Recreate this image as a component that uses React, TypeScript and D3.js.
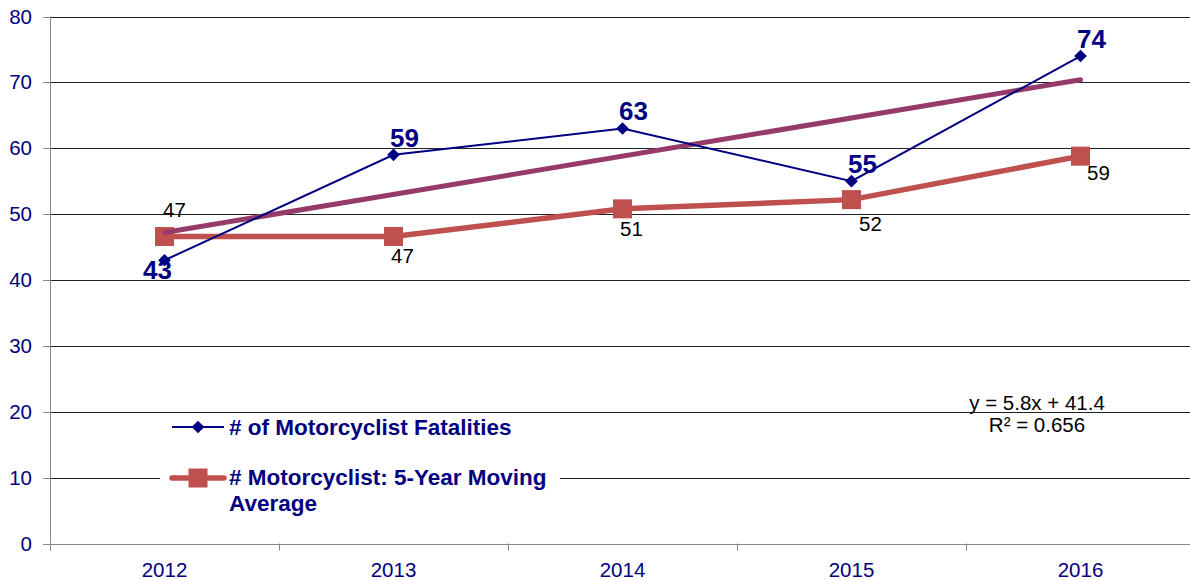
import React, { useEffect, useRef } from "react";
import * as d3 from "d3";

const years = ["2012", "2013", "2014", "2015", "2016"];
const fatalities = [43, 59, 63, 55, 74];
const movingAvg = [46.6, 46.6, 50.8, 52.2, 58.8];
const movingAvgLabels = ["47", "47", "51", "52", "59"];
const yTicks = [0, 10, 20, 30, 40, 50, 60, 70, 80];
const trendSlope = 5.8;
const trendIntercept = 41.4;
const trendText = ["y = 5.8x + 41.4", "R² = 0.656"];
const legendLabels = ["# of Motorcyclist Fatalities", "# Motorcyclist: 5-Year Moving", "Average"];

const W = 1190;
const H = 580;
const FONT = "'Liberation Sans', Arial, sans-serif";
const NAVY = "#000080";
const RED = "#C0504D";
const PURPLE = "#953B6B";

export default function App() {
  const ref = useRef<SVGSVGElement | null>(null);

  useEffect(() => {
    const svg = d3.select(ref.current);
    svg.selectAll("*").remove();

    const left = 50;
    const right = 1195;
    const top = 16.5;
    const bottom = 543.5;

    const x = d3.scaleBand<string>().domain(years).range([left, right]);
    const cx = (d: string) => (x(d) as number) + x.bandwidth() / 2;
    const y = d3.scaleLinear().domain([0, 80]).range([bottom, top]);

    // gridlines
    svg
      .append("g")
      .selectAll("line")
      .data(yTicks.filter((t) => t > 0))
      .join("line")
      .attr("x1", left)
      .attr("x2", W)
      .attr("y1", (d) => Math.round(y(d)) + 0.5)
      .attr("y2", (d) => Math.round(y(d)) + 0.5)
      .attr("stroke", "#222")
      .attr("stroke-width", 1);

    // legend background (covers gridlines)
    svg
      .append("rect")
      .attr("x", 160)
      .attr("y", 416)
      .attr("width", 400)
      .attr("height", 100)
      .attr("fill", "white");

    // y axis
    const ya = svg.append("g");
    ya.append("line")
      .attr("x1", left + 0.5)
      .attr("x2", left + 0.5)
      .attr("y1", top)
      .attr("y2", bottom)
      .attr("stroke", "#888");
    ya.selectAll("line.tick")
      .data(yTicks)
      .join("line")
      .attr("class", "tick")
      .attr("x1", left - 7)
      .attr("x2", left)
      .attr("y1", (d) => Math.round(y(d)) + 0.5)
      .attr("y2", (d) => Math.round(y(d)) + 0.5)
      .attr("stroke", "#888");
    ya.selectAll("text")
      .data(yTicks)
      .join("text")
      .attr("x", 32)
      .attr("y", (d) => y(d) + 7)
      .attr("text-anchor", "end")
      .attr("font-family", FONT)
      .attr("font-size", 20.5)
      .attr("fill", NAVY)
      .text((d) => String(d));

    // x axis
    const xa = svg.append("g");
    xa.append("line")
      .attr("x1", left)
      .attr("x2", W)
      .attr("y1", Math.round(bottom) + 0.5)
      .attr("y2", Math.round(bottom) + 0.5)
      .attr("stroke", "#888");
    const bounds = years.map((d) => x(d) as number).concat([right]);
    xa.selectAll("line.tick")
      .data(bounds)
      .join("line")
      .attr("class", "tick")
      .attr("x1", (d) => Math.round(d) + 0.5)
      .attr("x2", (d) => Math.round(d) + 0.5)
      .attr("y1", bottom)
      .attr("y2", bottom + 7)
      .attr("stroke", "#888");
    xa.selectAll("text")
      .data(years)
      .join("text")
      .attr("x", (d) => cx(d))
      .attr("y", 577)
      .attr("text-anchor", "middle")
      .attr("font-family", FONT)
      .attr("font-size", 20.5)
      .attr("fill", NAVY)
      .text((d) => d);

    // moving average line
    const line = d3.line<number>().x((_, i) => cx(years[i])).y((d) => y(d));
    svg
      .append("path")
      .attr("d", line(movingAvg) as string)
      .attr("fill", "none")
      .attr("stroke", RED)
      .attr("stroke-width", 5.5);
    svg
      .append("g")
      .selectAll("rect")
      .data(movingAvg)
      .join("rect")
      .attr("x", (_, i) => cx(years[i]) - 9.5)
      .attr("y", (d) => y(d) - 9.5)
      .attr("width", 19)
      .attr("height", 19)
      .attr("fill", RED);

    // trend line
    const tx0 = 1;
    const tx1 = years.length;
    svg
      .append("line")
      .attr("x1", cx(years[0]))
      .attr("x2", cx(years[years.length - 1]))
      .attr("y1", y(trendSlope * tx0 + trendIntercept))
      .attr("y2", y(trendSlope * tx1 + trendIntercept))
      .attr("stroke", PURPLE)
      .attr("stroke-width", 5)
      .attr("stroke-linecap", "round");

    // fatalities line
    svg
      .append("path")
      .attr("d", line(fatalities) as string)
      .attr("fill", "none")
      .attr("stroke", NAVY)
      .attr("stroke-width", 2);
    svg
      .append("g")
      .selectAll("path")
      .data(fatalities)
      .join("path")
      .attr("d", d3.symbol().type(d3.symbolSquare).size(80) as any)
      .attr("transform", (d, i) => `translate(${cx(years[i])},${y(d)}) rotate(45)`)
      .attr("fill", NAVY);

    // fatality labels
    svg
      .append("g")
      .selectAll("text")
      .data(fatalities)
      .join("text")
      .attr("x", (_, i) => cx(years[i]) + (i === 0 ? -7 : 11))
      .attr("y", (d, i) => y(d) + (i === 0 ? 19 : -8))
      .attr("text-anchor", "middle")
      .attr("font-family", FONT)
      .attr("font-size", 26)
      .attr("font-weight", "bold")
      .attr("fill", NAVY)
      .text((d) => String(d));

    // moving average labels
    const maDx = [10, 9, 9, 19, 18];
    const maDy = [-20, 26, 27, 31, 24];
    svg
      .append("g")
      .selectAll("text")
      .data(movingAvg)
      .join("text")
      .attr("x", (_, i) => cx(years[i]) + maDx[i])
      .attr("y", (d, i) => y(d) + maDy[i])
      .attr("text-anchor", "middle")
      .attr("font-family", FONT)
      .attr("font-size", 20.5)
      .attr("fill", "#000")
      .text((_, i) => movingAvgLabels[i]);

    // trend equation
    svg
      .append("g")
      .selectAll("text")
      .data(trendText)
      .join("text")
      .attr("x", 1037)
      .attr("y", (_, i) => 410 + i * 22)
      .attr("text-anchor", "middle")
      .attr("font-family", FONT)
      .attr("font-size", 20.5)
      .attr("fill", "#000")
      .text((d) => d);

    // legend
    const lg = svg.append("g");
    lg.append("line")
      .attr("x1", 172)
      .attr("x2", 224)
      .attr("y1", 427)
      .attr("y2", 427)
      .attr("stroke", NAVY)
      .attr("stroke-width", 2);
    lg.append("path")
      .attr("d", d3.symbol().type(d3.symbolSquare).size(80) as any)
      .attr("transform", "translate(198,427) rotate(45)")
      .attr("fill", NAVY);
    lg.append("line")
      .attr("x1", 172)
      .attr("x2", 224)
      .attr("y1", 478)
      .attr("y2", 478)
      .attr("stroke", RED)
      .attr("stroke-width", 5.5)
      .attr("stroke-linecap", "round");
    lg.append("rect")
      .attr("x", 188.5)
      .attr("y", 468.5)
      .attr("width", 19)
      .attr("height", 19)
      .attr("fill", RED);
    const lt = [
      { t: legendLabels[0], y: 435 },
      { t: legendLabels[1], y: 485 },
      { t: legendLabels[2], y: 511 },
    ];
    lg.selectAll("text")
      .data(lt)
      .join("text")
      .attr("x", 229)
      .attr("y", (d) => d.y)
      .attr("font-family", FONT)
      .attr("font-size", 22.5)
      .attr("font-weight", "bold")
      .attr("fill", NAVY)
      .text((d) => d.t);
  }, []);

  return (
    <svg
      ref={ref}
      width={W}
      height={H}
      style={{ position: "absolute", left: 0, top: 0, background: "white" }}
    />
  );
}
